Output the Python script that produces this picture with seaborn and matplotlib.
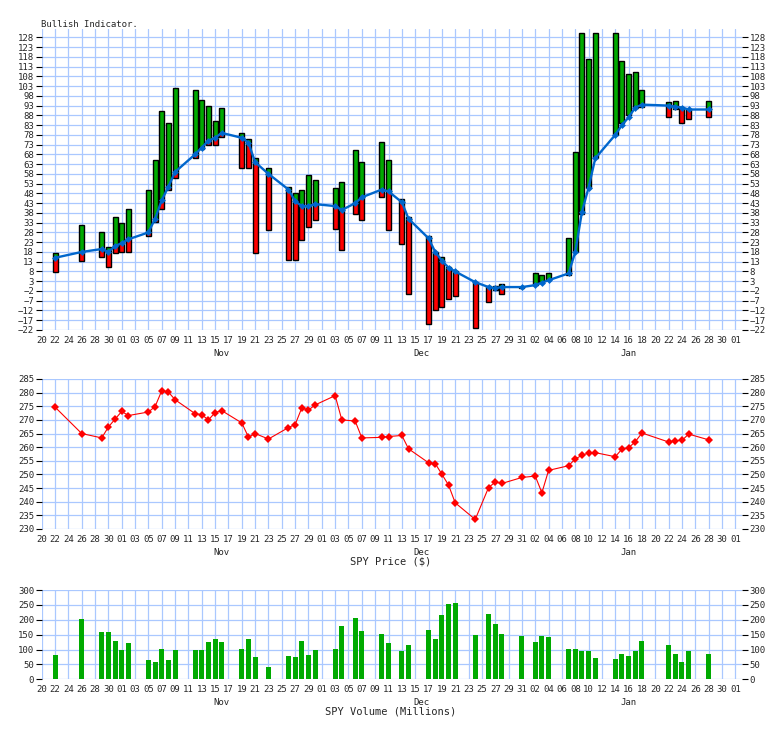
"""
Bullish indicator with SPY price and volume, three stacked panels
"""
import numpy as np
import pandas as pd
import seaborn as sns
import matplotlib
matplotlib.use("Agg")
import matplotlib.pyplot as plt
import matplotlib.dates as mdates

#######################################################################################
# Data
dates = ["2018-10-22", "2018-10-26", "2018-10-29", "2018-10-30", "2018-10-31",
         "2018-11-01", "2018-11-02", "2018-11-05", "2018-11-06", "2018-11-07",
         "2018-11-08", "2018-11-09", "2018-11-12", "2018-11-13", "2018-11-14",
         "2018-11-15", "2018-11-16", "2018-11-19", "2018-11-20", "2018-11-21",
         "2018-11-23", "2018-11-26", "2018-11-27", "2018-11-28", "2018-11-29",
         "2018-11-30", "2018-12-03", "2018-12-04", "2018-12-06", "2018-12-07",
         "2018-12-10", "2018-12-11", "2018-12-13", "2018-12-14", "2018-12-17",
         "2018-12-18", "2018-12-19", "2018-12-20", "2018-12-21", "2018-12-24",
         "2018-12-26", "2018-12-27", "2018-12-28", "2018-12-31", "2019-01-02",
         "2019-01-03", "2019-01-04", "2019-01-07", "2019-01-08", "2019-01-09",
         "2019-01-10", "2019-01-11", "2019-01-14", "2019-01-15", "2019-01-16",
         "2019-01-17", "2019-01-18", "2019-01-22", "2019-01-23", "2019-01-24",
         "2019-01-25", "2019-01-28"]

bull_high = [17.5, 32, 28, 20.5, 36, 33, 40, 50, 65, 90,
             84, 102, 101, 96, 93, 85, 92, 79, 76, 66,
             61, 51.5, 48, 50, 57.5, 55, 51, 54, 70, 64,
             74.5, 65, 45, 36, 26, 18, 15.5, 10.5, 8, 2.5,
             0.5, 0.5, 1.8, 0, 7, 6, 7, 25, 69, 130,
             117, 130, 130, 116, 109, 110, 101, 95, 95.5, 92.5,
             91.5, 95.5]

bull_low = [7.5, 13.5, 15.5, 10.5, 17.5, 18, 18, 26, 33.5, 40,
            50, 56, 66, 71, 73, 73, 77, 61, 61, 17.5,
            29, 14, 14, 24, 31, 34.5, 30, 19, 37.5, 34.5,
            46, 29, 22, -3.5, -19, -12, -10, -6, -4.5, -21,
            -7.5, -1.5, -3.5, -0.5, 1, 2, 3.5, 6, 18, 37.5,
            51, 66, 78, 84, 88, 92, 92.5, 87, 91, 84,
            86, 87]

bull_avg = [15, 18, 19.5, 18, 21, 22.5, 24.5, 28, 35, 44.5,
            51.5, 59, 68, 71.5, 75, 76.5, 79, 76.5, 74, 64,
            58, 50, 44, 41.5, 41.5, 42.5, 41.5, 39.5, 43, 46,
            50, 49, 43.5, 35, 25, 18, 13.5, 10, 8, 2.5,
            0, -0.5, 0, 0, 1, 2.3, 3.5, 7, 18, 38.5,
            51, 66, 78, 83, 87, 92, 93.5, 93, 92.5, 92,
            91, 91]

spy_price = [274.7, 265.0, 263.4, 267.4, 270.3, 273.1, 271.6, 272.9, 274.9, 280.7,
             280.2, 277.4, 272.3, 271.9, 270.0, 272.7, 273.4, 268.9, 263.7, 265.0,
             263.0, 267.2, 268.3, 274.4, 273.6, 275.5, 278.9, 270.0, 269.6, 263.4,
             263.6, 263.9, 264.3, 259.4, 254.3, 254.0, 250.1, 246.1, 239.6, 233.5,
             245.2, 247.2, 246.7, 248.9, 249.4, 243.3, 251.5, 253.2, 255.7, 257.0,
             257.9, 258.0, 256.5, 259.3, 259.8, 262.0, 265.2, 261.9, 262.4, 262.5,
             264.8, 262.7]

spy_volume = [82, 203, 159, 159, 129, 98, 122, 65, 58, 102,
              65, 98, 98, 98, 125, 136, 125, 102, 136, 75,
              41, 78, 75, 129, 82, 98, 102, 179, 206, 162,
              152, 122, 95, 115, 166, 136, 216, 253, 256, 149,
              219, 186, 152, 146, 125, 146, 142, 102, 102, 95,
              95, 72, 68, 85, 78, 95, 129, 115, 85, 58,
              95, 85]

month_labels = ["Nov", "Dec", "Jan"]
month_centres = ["2018-11-16", "2018-12-16", "2019-01-16"]

df = pd.DataFrame({"date": pd.to_datetime(dates), "high": bull_high, "low": bull_low,
                   "avg": bull_avg, "price": spy_price, "volume": spy_volume})

#######################################################################################
# Figure layout (pixel boxes of the original image)
GRID = "#aac8ff"
GREEN = "#00aa00"
RED = "#ff0000"
BLUE = "#0066cc"

sns.set_style("white")
plt.rcParams["font.family"] = ["DejaVu Sans Mono"]

W, H = 784, 729
fig = plt.figure(figsize=(W / 100, H / 100), dpi=100)


def place(left, top, right, bottom):
    return fig.add_axes([left / W, 1 - bottom / H, (right - left) / W, (bottom - top) / H])


ax1 = place(41.7, 29.3, 742, 330)
ax2 = place(41.7, 379, 742, 529)
ax3 = place(41.7, 590, 742, 679.3)

xticks = pd.date_range("2018-10-20", "2019-02-01", freq="2D")
xlim = (pd.Timestamp("2018-10-20"), pd.Timestamp("2019-02-02"))


def style(ax, yticks, ylim):
    ax.set_xlim(*xlim)
    ax.set_ylim(*ylim)
    ax.set_xticks(xticks)
    ax.set_xticklabels([d.strftime("%d") for d in xticks])
    ax.set_yticks(yticks)
    ax.grid(True, color=GRID, lw=0.9)
    ax.set_axisbelow(True)
    for s in ax.spines.values():
        s.set_visible(False)
    ax.tick_params(axis="x", length=0, pad=4, labelsize=6.5)
    ax.tick_params(axis="y", left=True, right=True, labelleft=True, labelright=True,
                   length=4, width=0.8, pad=1.5, labelsize=6.5, color="black")
    ax.set_xlabel("")
    ax.set_ylabel("")
    for name, day in zip(month_labels, month_centres):
        ax.annotate(name, xy=(mdates.date2num(pd.Timestamp(day)), 0),
                    xycoords=ax.get_xaxis_transform(), xytext=(0, -17),
                    textcoords="offset points", ha="center", va="center", fontsize=6.5)


#######################################################################################
# Bullish indicator: bar from low to high, green above the average, red below
width = 0.75
up = df["high"] > df["avg"]
green_bottom = np.maximum(df["low"], df["avg"])
ax1.bar(df["date"][up], (df["high"] - green_bottom)[up], bottom=green_bottom[up],
        width=width, color=GREEN, lw=0)
down = df["low"] < df["avg"]
red_top = np.minimum(df["high"], df["avg"])
ax1.bar(df["date"][down], (red_top - df["low"])[down], bottom=df["low"][down],
        width=width, color=RED, lw=0)
ax1.bar(df["date"], df["high"] - df["low"], bottom=df["low"], width=width,
        facecolor="none", edgecolor="black", lw=1)
sns.lineplot(data=df, x="date", y="avg", ax=ax1, color=BLUE, lw=1.7, marker="D",
             markersize=3.5, markeredgewidth=0)
style(ax1, np.arange(-22, 129, 5), (-22, 132.1))

# SPY price
sns.lineplot(data=df, x="date", y="price", ax=ax2, color=RED, lw=0.8, marker="D",
             markersize=4, markeredgewidth=0)
style(ax2, np.arange(230, 286, 5), (230, 285))

# SPY volume
ax3.bar(df["date"], df["volume"], width=width, color=GREEN, lw=0)
style(ax3, np.arange(0, 301, 50), (0, 300))

fig.text(40.7 / W, 1 - 24.3 / H, "Bullish Indicator.", fontsize=6.5, ha="left", va="center")
fig.text(391 / W, 1 - 561 / H, "SPY Price ($)", fontsize=7.5, ha="center", va="center")
fig.text(390.5 / W, 1 - 711 / H, "SPY Volume (Millions)", fontsize=7.5, ha="center", va="center")

fig.savefig("out.png", dpi=100)
